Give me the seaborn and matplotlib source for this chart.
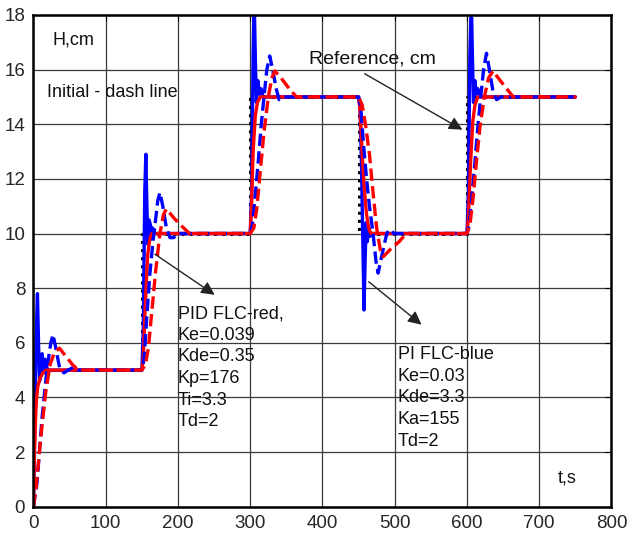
import matplotlib
matplotlib.use('Agg')
import matplotlib.pyplot as plt
import seaborn as sns

# Reference step signal (black dotted)
ref_t = [0, 0, 150, 150, 300, 300, 450, 450, 600, 600, 750]
ref_h = [0, 5, 5, 10, 10, 15, 15, 10, 10, 15, 15]

# PI FLC tuned (blue solid)
pi_t = [0, 2, 4, 5.5, 7, 8.5, 10, 12, 14, 16, 18, 21,
        150, 152, 154, 155.5, 157, 158.5, 160, 162, 163.5, 165, 167,
        300, 302, 304, 305.5, 307, 308.5, 310.5, 313, 315, 318,
        450, 452, 454, 456, 457.5, 459, 460.5, 462, 464, 466, 469,
        600, 602, 604, 606, 607.5, 609, 611, 613, 615, 618, 750]
pi_h = [0, 3.5, 6.5, 7.8, 6.0, 4.6, 5.3, 5.6, 4.9, 5.4, 5.1, 5.0,
        5.0, 6.5, 11.5, 12.9, 11.0, 9.6, 10.5, 10.3, 9.8, 10.2, 10.0,
        10.0, 11.5, 16.5, 18.6, 16.5, 14.8, 15.6, 15.1, 15.3, 15.0,
        15.0, 14.6, 12.5, 9.5, 7.2, 9.0, 10.4, 9.7, 10.2, 9.9, 10.0,
        10.0, 11.5, 16.5, 18.6, 16.5, 14.8, 15.6, 15.1, 15.3, 15.0, 15.0]

# PI FLC initial (blue dashed)
pi0_t = [0, 5, 12, 19, 24, 27, 31, 36, 42, 48, 55, 62,
         150, 153, 157, 161, 165, 169, 172, 175, 179, 184, 189, 194, 200,
         300, 303, 307, 311, 315, 319, 323, 327, 331, 336, 340, 347,
         450, 453, 457, 461, 465, 470, 474, 477, 483, 489, 493, 499,
         600, 603, 607, 611, 615, 619, 623, 627, 631, 636, 641, 647, 750]
pi0_h = [0, 0.9, 3.3, 5.1, 6.0, 6.3, 5.8, 5.1, 4.9, 5.0, 5.1, 5.0,
         5.0, 5.4, 7.0, 8.5, 9.6, 10.5, 11.2, 11.5, 11.0, 10.2, 9.85, 9.85, 10.0,
         10.0, 10.3, 11.4, 12.6, 13.9, 15.0, 16.0, 16.5, 16.0, 15.3, 14.9, 15.0,
         15.0, 14.6, 13.2, 12.0, 11.0, 10.0, 9.0, 8.55, 9.3, 10.0, 10.15, 10.0,
         10.0, 10.3, 11.4, 12.6, 13.9, 15.0, 16.0, 16.6, 16.0, 15.2, 14.9, 15.0, 15.0]

# PID FLC tuned (red solid)
pid_t = [0, 1, 2.5, 4, 6, 9, 13, 18,
         150, 152, 155, 158, 161, 164,
         300, 301.5, 304, 307, 310, 314,
         450, 452, 455, 458, 461, 464, 467,
         600, 602, 605, 608, 611, 615, 750]
pid_h = [0, 1.5, 3.0, 3.9, 4.4, 4.7, 4.9, 5.0,
         5.0, 5.5, 7.5, 9.2, 9.8, 10.0,
         10.0, 10.8, 13.0, 14.3, 14.8, 15.0,
         15.0, 14.5, 12.9, 11.6, 10.7, 10.2, 10.0,
         10.0, 10.6, 12.6, 14.1, 14.7, 15.0, 15.0]

# PID FLC initial (red dashed)
pid0_t = [0, 4, 10, 17, 23, 29, 36, 45, 54, 62,
          150, 155, 159, 164, 169, 175, 180, 184, 195, 206, 216,
          300, 305, 309, 314, 319, 325, 330, 334, 344, 354, 364,
          450, 455, 460, 465, 470, 475, 480, 484, 495, 506, 516,
          600, 604, 608, 613, 618, 624, 630, 636, 646, 655, 664, 750]
pid0_h = [0, 0.8, 2.5, 4.2, 5.2, 5.65, 5.8, 5.5, 5.2, 5.0,
          5.0, 5.2, 5.8, 7.2, 8.6, 10.0, 10.7, 10.9, 10.55, 10.25, 10.0,
          10.0, 10.2, 10.9, 12.3, 13.7, 15.0, 15.7, 15.95, 15.65, 15.3, 15.0,
          15.0, 14.7, 13.9, 12.9, 11.5, 10.2, 9.4, 9.15, 9.45, 9.7, 10.0,
          10.0, 10.3, 11.2, 12.6, 13.9, 15.0, 15.7, 15.95, 15.6, 15.3, 15.0, 15.0]

pid_label = "PID FLC-red,\nKe=0.039\nKde=0.35\nKp=176\nTi=3.3\nTd=2"
pi_label = "PI FLC-blue\nKe=0.03\nKde=3.3\nKa=155\nTd=2"


def draw_curve(ax, t, h, color, style, lw=2.4):
    """Draw one response curve with seaborn"""
    sns.lineplot(x=t, y=h, ax=ax, color=color, linestyle=style, linewidth=lw,
                 estimator=None, sort=False)


def main():
    sns.set_style('whitegrid')
    plt.rcParams['font.family'] = ['Liberation Sans', 'DejaVu Sans']

    fig = plt.figure(figsize=(6.28, 5.35), dpi=100)
    ax = fig.add_axes([0.0533, 0.0529, 0.9204, 0.9191])

    # draw order: reference, blue solid, red solid, blue dashed, red dashed
    draw_curve(ax, ref_t, ref_h, 'black', ':', lw=2.2)
    draw_curve(ax, pi_t, pi_h, '#0000ff', '-')
    draw_curve(ax, pid_t, pid_h, '#ff0000', '-')
    draw_curve(ax, pi0_t, pi0_h, '#0000ff', '--')
    draw_curve(ax, pid0_t, pid0_h, '#ff0000', '--')

    ax.set_xlim(0, 800)
    ax.set_ylim(0, 18)
    ax.set_xticks(range(0, 801, 100))
    ax.set_yticks(range(0, 19, 2))
    ax.set_xlabel('')
    ax.set_ylabel('')
    ax.grid(True, color='#3a3a3a', linewidth=0.9)
    ax.tick_params(direction='in', length=4, labelsize=13.5, pad=6,
                   top=True, right=True, color='black')
    for spine in ax.spines.values():
        spine.set_color('black')
        spine.set_linewidth(1.8)

    # Labels
    txt = dict(fontsize=13, color='#111111')
    ax.text(27, 17.1, 'H,cm', va='center', **txt)
    ax.text(18.5, 15.15, 'Initial - dash line', va='center', **txt)
    ax.text(382, 16.4, 'Reference, cm', va='center', fontsize=14, color='#111111')
    ax.text(200, 7.38, pid_label, va='top', linespacing=1.36, **txt)
    ax.text(504, 5.88, pi_label, va='top', linespacing=1.36, **txt)
    ax.text(726, 1.06, 't,s', va='center', **txt)

    # Arrows
    arrow = dict(arrowstyle='-|>', color='#222222', lw=1, mutation_scale=20)
    ax.annotate('', xy=(597, 13.75), xytext=(455, 15.9), arrowprops=arrow)
    ax.annotate('', xy=(254, 7.7), xytext=(165, 9.3), arrowprops=arrow)
    ax.annotate('', xy=(540, 6.6), xytext=(461, 8.3), arrowprops=arrow)

    fig.savefig('out.png', dpi=100)
    plt.close(fig)


if __name__ == "__main__":
    main()
